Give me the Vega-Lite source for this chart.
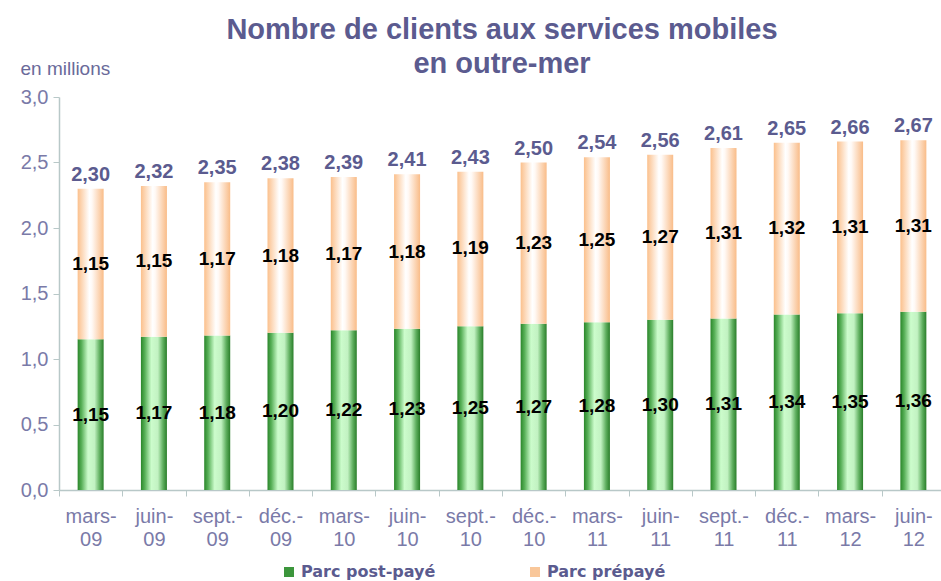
{
  "$schema": "https://vega.github.io/schema/vega-lite/v6.json",
  "width": 886,
  "height": 393,
  "autosize": {"type": "none"},
  "padding": {"left": 59, "top": 97, "right": 0, "bottom": 91},
  "background": "white",
  "config": {
    "font": "Liberation Sans",
    "view": {"stroke": null},
    "locale": {"number": {"decimal": ",", "thousands": " ", "grouping": [3], "currency": ["", " €"]}},
    "legend": {"symbolOpacity": 1}
  },
  "title": {
    "text": ["Nombre de clients aux services mobiles", "en outre-mer"],
    "fontSize": 29,
    "fontWeight": "bold",
    "color": "#5b5b8f",
    "lineHeight": 34,
    "anchor": "middle",
    "offset": -20
  },
  "data": {
    "values": [
      {"period": "mars-09", "post": 1.15, "pre": 1.15, "total": 2.30},
      {"period": "juin-09", "post": 1.17, "pre": 1.15, "total": 2.32},
      {"period": "sept.-09", "post": 1.18, "pre": 1.17, "total": 2.35},
      {"period": "déc.-09", "post": 1.20, "pre": 1.18, "total": 2.38},
      {"period": "mars-10", "post": 1.22, "pre": 1.17, "total": 2.39},
      {"period": "juin-10", "post": 1.23, "pre": 1.18, "total": 2.41},
      {"period": "sept.-10", "post": 1.25, "pre": 1.19, "total": 2.43},
      {"period": "déc.-10", "post": 1.27, "pre": 1.23, "total": 2.50},
      {"period": "mars-11", "post": 1.28, "pre": 1.25, "total": 2.54},
      {"period": "juin-11", "post": 1.30, "pre": 1.27, "total": 2.56},
      {"period": "sept.-11", "post": 1.31, "pre": 1.31, "total": 2.61},
      {"period": "déc.-11", "post": 1.34, "pre": 1.32, "total": 2.65},
      {"period": "mars-12", "post": 1.35, "pre": 1.31, "total": 2.66},
      {"period": "juin-12", "post": 1.36, "pre": 1.31, "total": 2.67}
    ]
  },
  "encoding": {
    "x": {
      "field": "period",
      "type": "nominal",
      "sort": null,
      "scale": {"paddingInner": 0, "paddingOuter": 0},
      "axis": {
        "title": null,
        "labelAngle": 0,
        "labelExpr": "[slice(datum.label, 0, -2), slice(datum.label, -2)]",
        "labelFontSize": 20,
        "labelColor": "#7a7aa8",
        "labelLineHeight": 23,
        "labelPadding": 10,
        "tickBand": "extent",
        "tickSize": 6,
        "tickColor": "#b8c8c8",
        "domainColor": "#b8c8c8",
        "domainWidth": 1.5
      }
    }
  },
  "layer": [
    {
      "mark": {"type": "bar", "width": 26, "opacity": 0},
      "encoding": {
        "y": {"field": "post", "type": "quantitative"},
        "color": {
          "datum": "Parc post-payé",
          "type": "nominal",
          "scale": {"domain": ["Parc post-payé", "Parc prépayé"], "range": ["#3c963c", "#f9c79a"]},
          "legend": {
            "orient": "none",
            "legendX": 222,
            "legendY": 467,
            "direction": "horizontal",
            "title": null,
            "symbolType": "square",
            "symbolSize": 100,
            "labelFont": "DejaVu Sans",
            "labelFontSize": 16,
            "labelFontWeight": "bold",
            "labelColor": "#5b5b8f",
            "labelOffset": 4,
            "columnPadding": 91
          }
        }
      }
    },
    {
      "mark": {"type": "bar", "width": 26, "opacity": 0},
      "encoding": {
        "y": {"field": "post", "type": "quantitative"},
        "color": {"datum": "Parc prépayé", "type": "nominal"}
      }
    },
    {
      "mark": {
        "type": "bar",
        "width": 26,
        "color": {
          "gradient": "linear", "x1": 0, "x2": 1, "y1": 0, "y2": 0,
          "stops": [
            {"offset": 0, "color": "#2a862a"},
            {"offset": 0.15, "color": "#58b058"},
            {"offset": 0.4, "color": "#ccfccc"},
            {"offset": 0.65, "color": "#c2f2c2"},
            {"offset": 0.85, "color": "#5eae5e"},
            {"offset": 1, "color": "#2a7e2a"}
          ]
        }
      },
      "encoding": {
        "y": {
          "field": "post",
          "type": "quantitative",
          "scale": {"domain": [0, 3]},
          "axis": {
            "title": "en millions",
            "titleAngle": 0,
            "titleX": -39,
            "titleY": -23,
            "titleAlign": "left",
            "titleBaseline": "alphabetic",
            "titleFontSize": 19,
            "titleFontWeight": "normal",
            "titleColor": "#6a6a9a",
            "values": [0, 0.5, 1, 1.5, 2, 2.5, 3],
            "format": ".1f",
            "grid": false,
            "labelFontSize": 20,
            "labelColor": "#7a7aa8",
            "labelPadding": 5,
            "tickSize": 6,
            "tickColor": "#b8c8c8",
            "domainColor": "#b8c8c8",
            "domainWidth": 1.5
          }
        }
      }
    },
    {
      "mark": {
        "type": "bar",
        "width": 26,
        "color": {
          "gradient": "linear", "x1": 0, "x2": 1, "y1": 0, "y2": 0,
          "stops": [
            {"offset": 0, "color": "#fbc08c"},
            {"offset": 0.45, "color": "#ffffff"},
            {"offset": 0.55, "color": "#fff9f5"},
            {"offset": 1, "color": "#f9bc88"}
          ]
        }
      },
      "encoding": {
        "y": {"field": "post", "type": "quantitative"},
        "y2": {"field": "total"}
      }
    },
    {
      "mark": {"type": "text", "fontSize": 19, "fontWeight": "bold", "color": "black", "baseline": "middle"},
      "encoding": {
        "y": {"datum": 0, "type": "quantitative"},
        "yOffset": {"field": "post", "type": "quantitative", "scale": {"domain": [0, 3], "range": [0, -196.5]}},
        "text": {"field": "post", "type": "quantitative", "format": ".2f"}
      }
    },
    {
      "mark": {"type": "text", "fontSize": 19, "fontWeight": "bold", "color": "black", "baseline": "middle"},
      "encoding": {
        "y": {"value": {"expr": "scale('y', datum.post + datum.pre / 2)"}},
        "text": {"field": "pre", "type": "quantitative", "format": ".2f"}
      }
    },
    {
      "mark": {"type": "text", "fontSize": 20, "fontWeight": "bold", "color": "#5b5b8f", "baseline": "alphabetic", "dy": -8},
      "encoding": {
        "y": {"field": "total", "type": "quantitative"},
        "text": {"field": "total", "type": "quantitative", "format": ".2f"}
      }
    }
  ]
}
